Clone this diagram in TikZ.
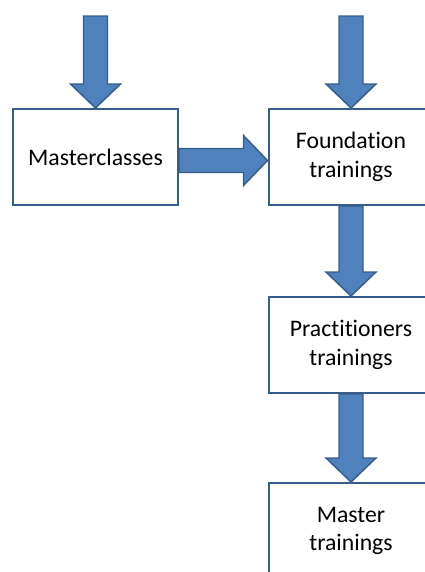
\documentclass[tikz,border=0pt]{standalone}
\usepackage{fontspec}
\setmainfont{Carlito}[Ligatures={NoCommon}]
\usetikzlibrary{calc}
\definecolor{arrowblue}{HTML}{4F81BD}
\definecolor{edgeblue}{HTML}{385D8A}

% block arrow from #1 to #2
\newcommand{\blockarrow}[2]{%
	\coordinate (ba-h) at ($(#2)!18pt!(#1)$);
	\draw[blockarrow] ($(#1)!9pt!90:(#2)$) -- ($(ba-h)!9pt!90:(#2)$) -- ($(ba-h)!18.75pt!90:(#2)$)
		-- (#2) -- ($(ba-h)!18.75pt!-90:(#2)$) -- ($(ba-h)!9pt!-90:(#2)$) -- ($(#1)!9pt!-90:(#2)$) -- cycle;}

\begin{document}
\begin{tikzpicture}[x=0.75pt,y=-0.75pt,
		stage/.style={draw=edgeblue,line width=1.5pt,fill=white,minimum width=123.75pt,minimum height=72pt,
			align=center,font=\fontsize{17.8}{21.5}\selectfont},
		blockarrow/.style={fill=arrowblue,draw=edgeblue,line width=1.1pt,line join=miter}]
		\useasboundingbox (0,0) rectangle (425,572);
		\clip (0,0) rectangle (425,572);
		\node[stage] (mc) at (95.5,157) {Masterclasses};
		\node[stage] (ft) at (351,157) {Foundation\\trainings};
		\node[stage] (pt) at (351,345) {Practitioners\\trainings};
		\node[stage] (mt) at (351,531) {Master\\trainings};
		\coordinate (in-mc) at (95.5,16);
		\coordinate (in-ft) at (351,16);
		\blockarrow{in-mc}{mc.north}
		\blockarrow{in-ft}{ft.north}
		\blockarrow{$(mc.east)+(0,3.5)$}{$(ft.west)+(0,3.5)$}
		\blockarrow{ft.south}{pt.north}
		\blockarrow{pt.south}{mt.north}
	\end{tikzpicture}
\end{document}
